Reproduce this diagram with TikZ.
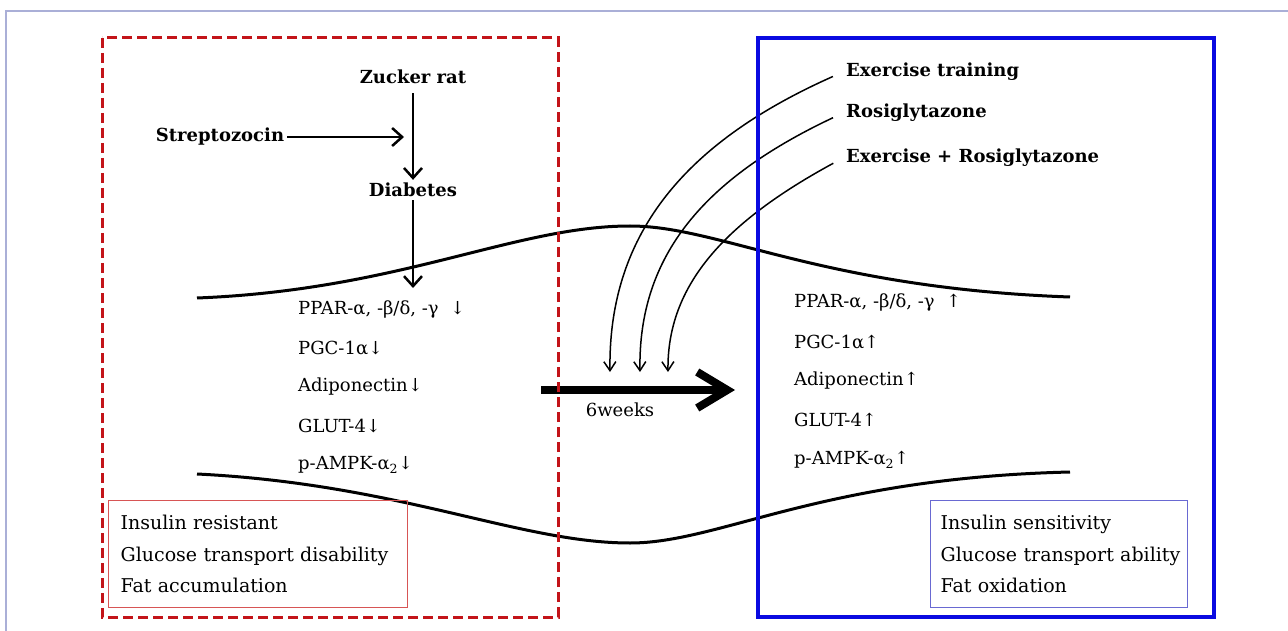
\documentclass[tikz,border=0pt]{standalone}
\usepackage{fontspec}
\setmainfont{DejaVu Serif}
\usetikzlibrary{arrows.meta}
\definecolor{dred}{RGB}{195,20,25}
\definecolor{lred}{RGB}{215,85,85}
\definecolor{dblue}{RGB}{10,10,225}
\definecolor{lblue}{RGB}{105,105,210}
\definecolor{framec}{RGB}{170,175,215}
\begin{document}
\begin{tikzpicture}[x=1pt,y=-1pt,
  bl/.style={font=\fontsize{18}{21}\selectfont\bfseries, inner sep=3pt},
  lst/.style={font=\fontsize{18}{21}\selectfont, anchor=west, inner sep=0pt},
  boxtxt/.style={font=\fontsize{19}{31.5}\selectfont, align=left, anchor=north west, minimum height=107pt},
  flow/.style={line width=2.5pt, -{Straight Barb[length=10pt,width=18pt]}},
  feed/.style={line width=1.5pt, -{Straight Barb[length=9pt,width=12pt]}},
  wave/.style={line width=3pt},
  bigarrow/.style={line width=8pt, -{Straight Barb[length=30pt,width=36pt]}},
  reddash/.style={draw=dred, line width=3pt, dash pattern=on 10pt off 5pt},
  bluebox/.style={draw=dblue, line width=3.5pt}
]
\useasboundingbox (0,0) rectangle (1288,631);
\draw[framec, line width=1.5pt] (6,631) -- (6,11) -- (1288,11);

% waves
\draw[wave] (197,298) .. controls (400,290) and (515,226) .. (630,226)
                     .. controls (720,226) and (820,288) .. (1070,297);
\draw[wave] (197,474) .. controls (400,484) and (520,543) .. (630,543)
                     .. controls (720,543) and (820,478) .. (1070,472);

% left flow
\node[bl] (zr) at (413,77) {Zucker rat};
\node[bl] (st) at (220,137) {Streptozocin};
\node[bl] (db) at (413,190) {Diabetes};
\coordinate (sj) at (404,137);
\coordinate (pp) at (413,288);
\draw[flow] (st.east) -- (sj);
\draw[flow, shorten <=6pt] (zr.south) -- (db.north);
\draw[flow] (db.south) -- (pp);

% lists
\node[lst] (l1) at (298,310) {PPAR-α, -β/δ, -γ \ ↓};
\node[lst] (l2) at (298,348) {PGC-1α↓};
\node[lst] (l3) at (298,387) {Adiponectin↓};
\node[lst] (l4) at (298,426) {GLUT-4↓};
\node[lst] (l5) at (298,465) {p-AMPK-α\textsubscript{2}↓};

\node[lst] (r1) at (794,303) {PPAR-α, -β/δ, -γ \ ↑};
\node[lst] (r2) at (794,342) {PGC-1α↑};
\node[lst] (r3) at (794,381) {Adiponectin↑};
\node[lst] (r4) at (794,420) {GLUT-4↑};
\node[lst] (r5) at (794,460) {p-AMPK-α\textsubscript{2}↑};

% treatments
\node[bl, anchor=west] (e1) at (843,72) {Exercise training};
\node[bl, anchor=west] (e2) at (843,113) {Rosiglytazone};
\node[bl, anchor=west] (e3) at (843,158) {Exercise + Rosiglytazone};
\coordinate (t1) at (610,372);
\coordinate (t2) at (640,372);
\coordinate (t3) at (668,372);
\draw[feed, shorten <=11pt] (e1.west) .. controls (690,140) and (608,230) .. (t1);
\draw[feed, shorten <=11pt] (e2.west) .. controls (705,178) and (638,255) .. (t2);
\draw[feed, shorten <=11pt] (e3.west) .. controls (725,222) and (667,285) .. (t3);

% big arrow
\coordinate (ba) at (541,390);
\coordinate (bb) at (735,390);
\draw[bigarrow] (ba) -- (bb);
\node[font=\fontsize{18}{21}\selectfont] (wk) at (620,410) {6weeks};

% outcome boxes
\node[boxtxt, draw=lred, line width=1.3pt, text width=275pt, inner xsep=12pt] (lb) at (108,500)
  {\mbox{Insulin resistant}\\\mbox{Glucose transport disability}\\\mbox{Fat accumulation}};
\node[boxtxt, draw=lblue, line width=1.3pt, text width=237pt, inner xsep=10pt] (rb) at (930,500)
  {\mbox{Insulin sensitivity}\\\mbox{Glucose transport ability}\\\mbox{Fat oxidation}};

% frames
\draw[reddash] (102,38) rectangle (558,617);
\draw[bluebox] (758,38) rectangle (1214,617);
\end{tikzpicture}
\end{document}
